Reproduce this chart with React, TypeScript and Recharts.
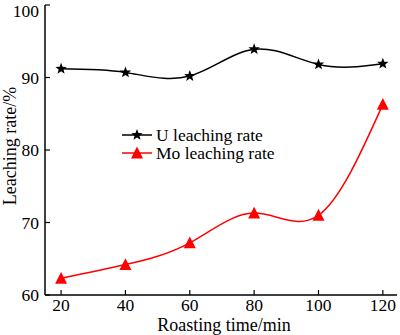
import React from 'react';
import {
  ComposedChart,
  Line,
  XAxis,
  YAxis,
  Legend,
  Label,
} from 'recharts';

const times = [20, 40, 60, 80, 100, 120];
const uRate = [91.2, 90.7, 90.2, 93.9, 91.8, 91.9];
const moRate = [62.3, 64.2, 67.2, 71.3, 71.0, 86.3];
const xTicks = [20, 40, 60, 80, 100, 120];
const yTicks = [60, 70, 80, 90, 100];

const data = times.map((t, i) => ({ time: t, u: uRate[i], mo: moRate[i] }));

const FONT = '"Liberation Serif", "Times New Roman", serif';

// five-point star path centred on (cx, cy)
function starPath(cx: number, cy: number, r: number) {
  const inner = r * 0.42;
  let d = '';
  for (let i = 0; i < 10; i++) {
    const rad = i % 2 === 0 ? r : inner;
    const a = -Math.PI / 2 + (i * Math.PI) / 5;
    d += (i === 0 ? 'M' : 'L') + (cx + rad * Math.cos(a)).toFixed(2) + ',' + (cy + rad * Math.sin(a)).toFixed(2);
  }
  return d + 'Z';
}

function trianglePath(cx: number, cy: number, s: number) {
  const h = s * 0.9;
  return `M${cx},${cy - h / 2 - 1}L${cx + s / 2},${cy + h / 2}L${cx - s / 2},${cy + h / 2}Z`;
}

const StarDot = (props: any) => {
  const { cx, cy } = props;
  if (cx == null || cy == null) return null;
  return <path d={starPath(cx, cy, 6)} fill="#000" />;
};

const TriDot = (props: any) => {
  const { cx, cy } = props;
  if (cx == null || cy == null) return null;
  return <path d={trianglePath(cx, cy, 12)} fill="#ff0000" />;
};

const legendItems = [
  { label: 'U leaching rate', color: '#000', kind: 'star' },
  { label: 'Mo leaching rate', color: '#ff0000', kind: 'tri' },
];

const renderLegend = () => (
  <div style={{ fontFamily: FONT, fontSize: 17.5, color: '#000', lineHeight: '18px' }}>
    {legendItems.map((it) => (
      <div key={it.label} style={{ display: 'flex', alignItems: 'center', height: 18 }}>
        <svg width={32} height={16} style={{ marginRight: 3 }}>
          <line x1={1} y1={8} x2={31} y2={8} stroke={it.color} strokeWidth={1.5} />
          {it.kind === 'star' ? (
            <path d={starPath(16, 8, 6)} fill={it.color} />
          ) : (
            <path d={trianglePath(16, 8, 12)} fill={it.color} />
          )}
        </svg>
        <span>{it.label}</span>
      </div>
    ))}
  </div>
);

const YTitle = () => (
  <text
    x={10}
    y={146}
    transform="rotate(-90, 10, 146)"
    textAnchor="middle"
    dominantBaseline="central"
    fill="#000"
    fontSize={18}
    fontFamily={FONT}
  >
    Leaching rate/%
  </text>
);

const XTitle = () => (
  <text x={224} y={331} textAnchor="middle" fill="#000" fontSize={18} fontFamily={FONT}>
    Roasting time/min
  </text>
);

export default function App() {
  return (
    <div style={{ position: 'absolute', left: 0, top: 0, width: 400, height: 335, background: '#fff' }}>
      <ComposedChart
        width={400}
        height={335}
        data={data}
        margin={{ top: 5, right: 3, left: 0, bottom: 0 }}
      >
        <XAxis
          dataKey="time"
          type="number"
          domain={[15, 124.4]}
          ticks={xTicks}
          allowDataOverflow
          axisLine={{ stroke: '#000', strokeWidth: 1.5 }}
          tickLine={{ stroke: '#000', strokeWidth: 1.2 }}
          tickSize={-5}
          tickMargin={9}
          tick={{ fill: '#000', fontSize: 17.5, fontFamily: FONT }}
          height={40}
        >
          <Label content={<XTitle />} />
        </XAxis>
        <XAxis
          xAxisId="top"
          orientation="top"
          dataKey="time"
          type="number"
          domain={[15, 124.4]}
          ticks={[]}
          axisLine={{ stroke: '#000', strokeWidth: 1.5 }}
          tickLine={false}
          tick={false}
          height={0}
        />
        <YAxis
          type="number"
          domain={[60, 100]}
          ticks={yTicks}
          allowDataOverflow
          axisLine={{ stroke: '#000', strokeWidth: 1.5 }}
          tickLine={{ stroke: '#000', strokeWidth: 1.2 }}
          tickSize={-5}
          tickMargin={11}
          tick={{ fill: '#000', fontSize: 17.5, fontFamily: FONT }}
          width={45}
        >
          <Label content={<YTitle />} />
        </YAxis>
        <YAxis
          yAxisId="right"
          orientation="right"
          domain={[60, 100]}
          ticks={[]}
          axisLine={{ stroke: '#000', strokeWidth: 1.5 }}
          tickLine={false}
          tick={false}
          width={0}
        />
        <Legend
          content={renderLegend}
          layout="vertical"
          align="center"
          verticalAlign="middle"
          wrapperStyle={{ position: 'absolute', left: 121, top: 126, width: 200 }}
        />
        <Line
          type="natural"
          dataKey="u"
          stroke="#000"
          strokeWidth={1.5}
          dot={<StarDot />}
          activeDot={false}
          isAnimationActive={false}
        />
        <Line
          type="natural"
          dataKey="mo"
          stroke="#ff0000"
          strokeWidth={1.5}
          dot={<TriDot />}
          activeDot={false}
          isAnimationActive={false}
        />
      </ComposedChart>
    </div>
  );
}
